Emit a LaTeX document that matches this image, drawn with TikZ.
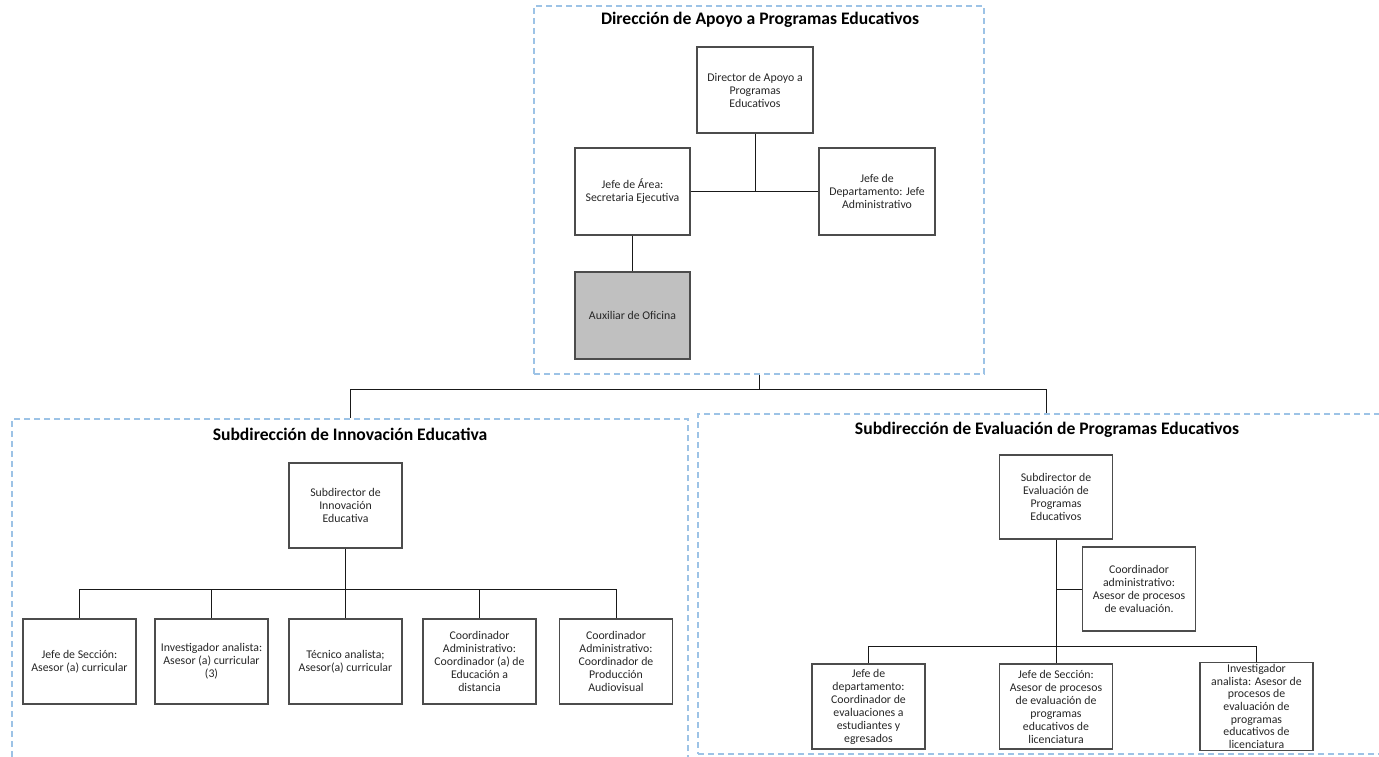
\documentclass[tikz,border=0pt]{standalone}
\usepackage{fontspec}
\setmainfont{Carlito}
\usepackage{tikz}
\usetikzlibrary{positioning,calc}
\definecolor{marco}{HTML}{9DC3E6}
\definecolor{gris}{HTML}{C0C0C0}
\tikzset{
  puesto/.style={draw=black!70,line width=1.3pt,minimum width=113pt,minimum height=85pt,
                 inner sep=2pt,align=center,font=\fontsize{11.8}{13}\selectfont,text=black!85},
  area/.style={draw=marco,line width=1.2pt,dash pattern=on 6pt off 4pt,inner sep=0pt},
  titulo/.style={font=\bfseries\fontsize{17.6}{20}\selectfont},
  linea/.style={line width=1pt,black!90},
}

\begin{document}
\begin{tikzpicture}[x=1pt,y=-1pt]
\useasboundingbox (0,0) rectangle (1379,757);
\clip (0,0) rectangle (1379,757);
% areas
\node[area,minimum width=450pt,minimum height=368pt] (fdir) at (759,190) {};
\node[area,minimum width=676pt,minimum height=356pt] (finn) at (350,597) {};
\node[area,minimum width=696pt,minimum height=340pt] (feval) at (1046,584) {};
\node[titulo] (tdir) at (760,20) {Dirección de Apoyo a Programas Educativos};
\node[titulo] (tinn) at (350,434) {Subdirección de Innovación Educativa};
\node[titulo] (teval) at (1047,430) {Subdirección de Evaluación de Programas Educativos};
% direccion
\node[puesto,minimum width=116pt,minimum height=86pt] (dir) at (755,90) {Director de Apoyo a\\Programas\\Educativos};
\node[puesto,minimum width=115pt,minimum height=87pt] (jarea) at (632.5,191.5) {Jefe de Área:\\Secretaria Ejecutiva};
\node[puesto,minimum width=116pt,minimum height=87pt] (jdep) at (877,191.5) {Jefe de\\Departamento: Jefe\\Administrativo};
\node[puesto,fill=gris,minimum width=115pt,minimum height=87pt] (aux) at (632.5,315.5) {Auxiliar de Oficina};
\draw[linea] (jarea.east) -- (jdep.west);
\draw[linea] (dir.south) -- (dir.south |- jarea.east);
\draw[linea] (jarea.south) -- (aux.north);
\coordinate (hub) at (759,389);
\draw[linea] (fdir.south) -- (hub);
\draw[linea] (hub) -| (finn.north);
\draw[linea] (hub) -| (feval.north);
% innovacion
\node[puesto] (sinn) at (345.5,505.5) {Subdirector de\\Innovación\\Educativa};
\foreach \n/\x/\t in {i1/79.5/{Jefe de Sección:\\Asesor (a) curricular},
                      i2/211.5/{Investigador analista:\\Asesor (a) curricular\\(3)},
                      i3/345.5/{Técnico analista;\\Asesor(a) curricular},
                      i4/479.5/{Coordinador\\Administrativo:\\Coordinador (a) de\\Educación a\\distancia},
                      i5/616/{Coordinador\\Administrativo:\\Coordinador de\\Producción\\Audiovisual}}{
  \node[puesto] (\n) at (\x,661.5) {\t};}
\coordinate (businn) at (345.5,589);
\draw[linea] (sinn.south) -- (businn);
\foreach \n in {i1,i2,i3,i4,i5}
  \draw[linea] (businn) -| (\n.north);
% evaluacion
\node[puesto,minimum height=84pt] (seval) at (1056,497) {Subdirector de\\Evaluación de\\Programas\\Educativos};
\node[puesto,minimum height=84pt] (ecoord) at (1139,589) {Coordinador\\administrativo:\\Asesor de procesos\\de evaluación.};
\node[puesto] (e1) at (868.5,706.5) {Jefe de\\departamento:\\Coordinador de\\evaluaciones a\\estudiantes y\\egresados};
\node[puesto] (e2) at (1056,706.5) {Jefe de Sección:\\Asesor de procesos\\de evaluación de\\programas\\educativos de\\licenciatura};
\node[puesto,font=\fontsize{11.8}{12.6}\selectfont] (e3) at (1256.5,706.5) {Investigador\\analista: Asesor de\\procesos de\\evaluación de\\programas\\educativos de\\licenciatura};
\coordinate (buseval) at (1056,646);
\draw[linea] (seval.south) -- (e2.north);
\draw[linea] (seval.south |- ecoord.west) -- (ecoord.west);
\draw[linea] (buseval) -| (e1.north);
\draw[linea] (buseval) -| (e3.north);
\end{tikzpicture}
\end{document}
